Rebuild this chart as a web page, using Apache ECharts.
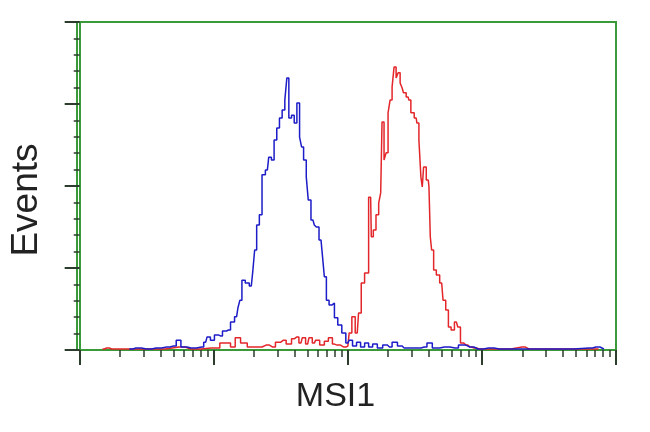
<!DOCTYPE html>
<html>
<head>
<meta charset="utf-8">
<script src="https://cdn.jsdelivr.net/npm/echarts@6/dist/echarts.min.js"></script>
<style>html,body{margin:0;padding:0;background:#fff}#c{width:650px;height:432px}</style>
</head>
<body>
<div id="c"></div>
<script>
// x in log10 units of MSI1 fluorescence, y = relative events (0-100)
const blueX = [0.37,0.42,0.50,0.57,0.65,0.70,0.74,0.77,0.83,0.91,0.94,0.96,0.99,1.02,1.05,1.08,1.11,1.14,1.17,1.19,1.20,1.22,1.25,1.28,1.30,1.31,1.33,1.35,1.37,1.40,1.42,1.44,1.46,1.48,1.50,1.52,1.54,1.55,1.57,1.59,1.61,1.63,1.65,1.66,1.68,1.70,1.71,1.74,1.76,1.77,1.80,1.82,1.83,1.85,1.87,1.89,1.91,1.94,1.97,2.00,2.02,2.05,2.08,2.11,2.14,2.17,2.20,2.24,2.28,2.31,2.35,2.39,2.42,2.46,2.52,2.57,2.61,2.65,2.72,2.80,2.85,2.91,2.97,3.05,3.13,3.28,3.57,3.80,3.85,3.91];
const blueY = [0.3,0.6,0.3,0.6,0.9,1.2,3.0,0.9,0.6,0.9,2.4,4.0,3.0,4.6,4.3,5.8,6.1,8.5,10.1,12.8,15.2,21.3,20.4,19.5,23.5,30.5,38.1,41.2,53.4,54.9,58.8,57.9,64.0,67.7,70.7,73.2,76.2,82.9,70.7,71.6,69.2,75.3,64.9,61.9,57.9,52.7,45.7,39.6,38.1,37.5,33.5,29.0,22.3,15.2,13.7,14.3,9.8,7.6,5.2,2.1,3.0,1.2,2.4,0.9,2.1,0.9,1.8,0.6,1.5,0.9,2.4,1.2,0.6,0.6,0.6,0.9,2.1,0.6,0.9,0.6,1.5,0.9,0.3,0.6,0.3,0.3,0.3,0.6,0.9,0.3];
const redX = [0.17,0.20,0.24,0.54,0.74,0.83,0.98,1.11,1.14,1.18,1.22,1.28,1.33,1.39,1.44,1.48,1.52,1.56,1.60,1.62,1.65,1.67,1.70,1.72,1.75,1.77,1.81,1.84,1.87,1.90,1.92,1.97,2.00,2.02,2.04,2.07,2.09,2.11,2.14,2.17,2.18,2.20,2.22,2.24,2.25,2.26,2.28,2.29,2.31,2.32,2.34,2.35,2.37,2.38,2.40,2.41,2.42,2.45,2.46,2.48,2.51,2.52,2.54,2.55,2.56,2.57,2.60,2.61,2.62,2.63,2.65,2.67,2.70,2.72,2.74,2.76,2.78,2.81,2.83,2.85,2.88,2.91,2.94,2.98,3.13,3.30,3.35,3.57,3.87];
const redY = [0.3,0.6,0.3,0.3,0.9,0.3,0.6,2.1,0.9,3.7,2.1,0.9,0.9,1.5,0.9,2.4,3.0,1.8,3.4,4.0,2.1,3.7,1.8,3.7,2.1,3.0,1.5,2.7,3.7,1.8,1.5,0.9,1.2,5.2,10.1,5.2,11.3,20.4,23.5,46.6,34.5,36.6,41.2,44.8,47.9,69.5,57.9,60.1,72.3,76.2,80.2,86.3,82.9,84.5,81.4,79.9,78.4,77.1,76.2,72.3,70.7,69.2,64.0,52.7,49.7,55.8,51.8,49.7,34.5,30.5,24.4,22.9,20.4,15.2,12.2,7.0,6.1,8.5,7.0,2.1,1.5,0.9,0.6,0.3,0.3,0.9,0.3,0.3,0.3];
const majorTicks = [0,1,2,3,4];
const minorMultipliers = [2,3,4,5,6,7,8,9];
const decades = [0,1,2,3];

const minorTicks = [];
decades.forEach(d => minorMultipliers.forEach(m => minorTicks.push(d + Math.log10(m))));
const pair = (xs, ys) => xs.map((x, i) => [x, ys[i]]);

const frame = '#3a9a3a';
const tickCol = '#2d3d2d';
const chart = echarts.init(document.getElementById('c'));
chart.setOption({
  animation: false,
  grid: {left: 75, right: 34, top: 22, bottom: 82, show: true, borderColor: frame, borderWidth: 2, backgroundColor: '#fff'},
  xAxis: [
    {type: 'value', min: -0.02, max: 4, position: 'bottom',
     name: 'MSI1', nameLocation: 'middle', nameGap: 30,
     nameTextStyle: {fontFamily: 'Liberation Sans', fontSize: 34, color: '#222', padding: [0, 22, 0, 0]},
     axisLine: {show: true, lineStyle: {color: frame, width: 2}},
     axisTick: {show: true, length: 15, customValues: majorTicks, lineStyle: {color: tickCol, width: 2}},
     axisLabel: {show: false}, splitLine: {show: false}},
    {type: 'value', min: -0.02, max: 4, position: 'bottom',
     axisLine: {show: false},
     axisTick: {show: true, length: 7, customValues: minorTicks, lineStyle: {color: tickCol, width: 1.5}},
     axisLabel: {show: false}, splitLine: {show: false}}
  ],
  yAxis: {type: 'value', min: 0, max: 100, interval: 25,
    name: 'Events', nameLocation: 'middle', nameGap: 32, nameRotate: 90,
    nameTextStyle: {fontFamily: 'Liberation Sans', fontSize: 37, color: '#222', padding: [0, 28, 0, 0]},
    axisLine: {show: true, lineStyle: {color: frame, width: 2}},
    axisTick: {show: true, length: 15, lineStyle: {color: tickCol, width: 2}},
    minorTick: {show: true, splitNumber: 5, length: 6, lineStyle: {color: tickCol, width: 1.5}},
    axisLabel: {show: false}, splitLine: {show: false}},
  series: [
    {type: 'line', xAxisIndex: 0, data: pair(redX, redY), step: 'middle', showSymbol: false,
     lineStyle: {color: '#e3262a', width: 1.5}},
    {type: 'line', xAxisIndex: 0, data: pair(blueX, blueY), step: 'middle', showSymbol: false,
     lineStyle: {color: '#1c1cc8', width: 1.5}}
  ]
});
</script>
</body>
</html>
